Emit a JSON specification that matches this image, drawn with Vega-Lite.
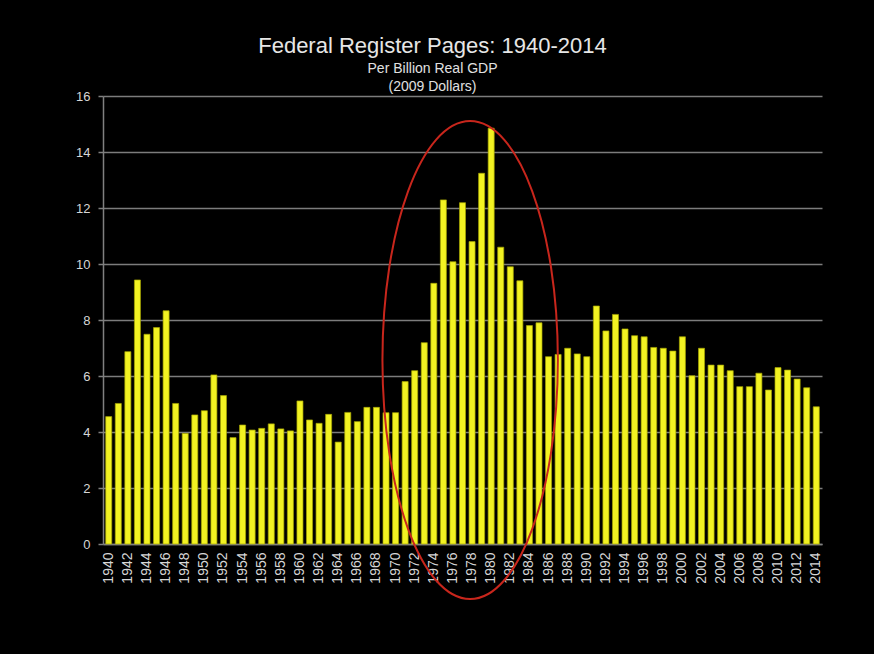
{
  "$schema": "https://vega.github.io/schema/vega-lite/v6.json",
  "autosize": {"type": "none"},
  "width": 719,
  "height": 448,
  "padding": {"left": 103, "top": 96, "right": 52, "bottom": 110},
  "background": "#000000",
  "title": {
    "text": "Federal Register Pages: 1940-2014",
    "subtitle": ["Per Billion Real GDP", "(2009 Dollars)"],
    "anchor": "middle",
    "frame": "group",
    "dx": -30,
    "offset": -5,
    "font": "Liberation Sans",
    "fontSize": 22,
    "fontWeight": "normal",
    "color": "#e6e6e6",
    "subtitleFont": "Liberation Sans",
    "subtitleFontSize": 14,
    "subtitleColor": "#e0e0e0",
    "subtitleLineHeight": 18,
    "subtitlePadding": 4
  },
  "config": {
    "view": {"stroke": null},
    "axis": {
      "labelFont": "Liberation Sans",
      "labelFontSize": 13,
      "labelColor": "#d6d6d6",
      "domainColor": "#808080",
      "tickColor": "#808080",
      "gridColor": "#7c7c7c",
      "gridWidth": 1.5,
      "domainWidth": 1.5,
      "tickWidth": 1.5
    }
  },
  "resolve": {"scale": {"x": "independent"}},
  "layer": [
    {
      "data": {
        "values": [
          {"year": 1940, "pages": 4.55}, {"year": 1941, "pages": 5.02},
          {"year": 1942, "pages": 6.87}, {"year": 1943, "pages": 9.43},
          {"year": 1944, "pages": 7.49}, {"year": 1945, "pages": 7.73},
          {"year": 1946, "pages": 8.33}, {"year": 1947, "pages": 5.02},
          {"year": 1948, "pages": 3.95}, {"year": 1949, "pages": 4.61},
          {"year": 1950, "pages": 4.76}, {"year": 1951, "pages": 6.04},
          {"year": 1952, "pages": 5.30}, {"year": 1953, "pages": 3.80},
          {"year": 1954, "pages": 4.25}, {"year": 1955, "pages": 4.07},
          {"year": 1956, "pages": 4.13}, {"year": 1957, "pages": 4.29},
          {"year": 1958, "pages": 4.11}, {"year": 1959, "pages": 4.04},
          {"year": 1960, "pages": 5.11}, {"year": 1961, "pages": 4.43},
          {"year": 1962, "pages": 4.31}, {"year": 1963, "pages": 4.63},
          {"year": 1964, "pages": 3.64}, {"year": 1965, "pages": 4.70},
          {"year": 1966, "pages": 4.37}, {"year": 1967, "pages": 4.88},
          {"year": 1968, "pages": 4.88}, {"year": 1969, "pages": 4.69},
          {"year": 1970, "pages": 4.69}, {"year": 1971, "pages": 5.80},
          {"year": 1972, "pages": 6.19}, {"year": 1973, "pages": 7.19},
          {"year": 1974, "pages": 9.31}, {"year": 1975, "pages": 12.29},
          {"year": 1976, "pages": 10.08}, {"year": 1977, "pages": 12.19},
          {"year": 1978, "pages": 10.80}, {"year": 1979, "pages": 13.24},
          {"year": 1980, "pages": 14.85}, {"year": 1981, "pages": 10.60},
          {"year": 1982, "pages": 9.90}, {"year": 1983, "pages": 9.40},
          {"year": 1984, "pages": 7.80}, {"year": 1985, "pages": 7.90},
          {"year": 1986, "pages": 6.69}, {"year": 1987, "pages": 6.77},
          {"year": 1988, "pages": 6.99}, {"year": 1989, "pages": 6.79},
          {"year": 1990, "pages": 6.69}, {"year": 1991, "pages": 8.50},
          {"year": 1992, "pages": 7.61}, {"year": 1993, "pages": 8.20},
          {"year": 1994, "pages": 7.68}, {"year": 1995, "pages": 7.44},
          {"year": 1996, "pages": 7.40}, {"year": 1997, "pages": 7.02},
          {"year": 1998, "pages": 6.99}, {"year": 1999, "pages": 6.89},
          {"year": 2000, "pages": 7.40}, {"year": 2001, "pages": 6.01},
          {"year": 2002, "pages": 6.99}, {"year": 2003, "pages": 6.39},
          {"year": 2004, "pages": 6.39}, {"year": 2005, "pages": 6.19},
          {"year": 2006, "pages": 5.62}, {"year": 2007, "pages": 5.62},
          {"year": 2008, "pages": 6.10}, {"year": 2009, "pages": 5.50},
          {"year": 2010, "pages": 6.30}, {"year": 2011, "pages": 6.21},
          {"year": 2012, "pages": 5.89}, {"year": 2013, "pages": 5.58},
          {"year": 2014, "pages": 4.90}
        ]
      },
      "mark": {"type": "bar", "fill": "#f2f222", "stroke": "#a6a600", "strokeWidth": 0.7},
      "encoding": {
        "x": {
          "field": "year",
          "type": "ordinal",
          "scale": {"paddingInner": 0.37, "paddingOuter": 0.285},
          "axis": {
            "title": null,
            "values": [1940, 1942, 1944, 1946, 1948, 1950, 1952, 1954, 1956, 1958, 1960, 1962, 1964, 1966, 1968, 1970, 1972, 1974, 1976, 1978, 1980, 1982, 1984, 1986, 1988, 1990, 1992, 1994, 1996, 1998, 2000, 2002, 2004, 2006, 2008, 2010, 2012, 2014],
            "labelAngle": -90,
            "labelFontSize": 14,
            "labelPadding": 8,
            "ticks": false,
            "grid": false,
            "labelOverlap": false,
            "labelSeparation": 0
          }
        },
        "y": {
          "field": "pages",
          "type": "quantitative",
          "scale": {"domain": [0, 16], "nice": false},
          "axis": {
            "title": null,
            "values": [0, 2, 4, 6, 8, 10, 12, 14, 16],
            "tickSize": 5,
            "labelPadding": 8,
            "grid": true
          }
        }
      }
    },
    {
      "data": {"values": [{"year": 1977.8, "pages": 6.57}]},
      "mark": {
        "type": "point",
        "shape": "M -0.367 0 A 0.367 1 0 1 1 0.367 0 A 0.367 1 0 1 1 -0.367 0 Z",
        "size": 228484,
        "filled": false,
        "stroke": "#c8261c",
        "strokeWidth": 2,
        "opacity": 1
      },
      "encoding": {
        "x": {
          "field": "year",
          "type": "quantitative",
          "scale": {"domain": [1939.4, 2014.6], "nice": false, "zero": false},
          "axis": null
        },
        "y": {"field": "pages", "type": "quantitative"}
      }
    }
  ]
}
